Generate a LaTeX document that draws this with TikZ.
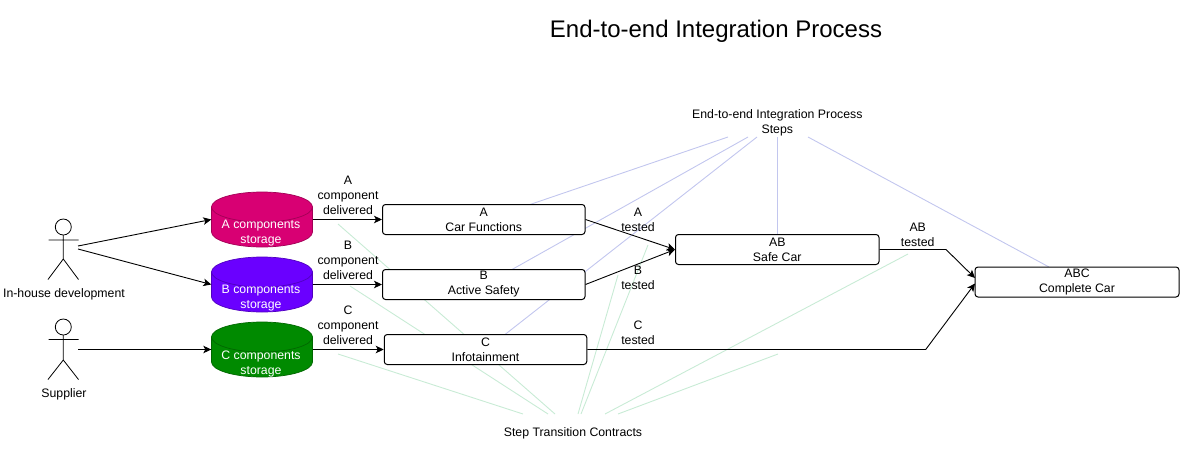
\documentclass[tikz,border=0pt]{standalone}
\usepackage{fontspec}
\setmainfont{Liberation Sans}
\usetikzlibrary{arrows.meta,backgrounds}
\definecolor{faintblue}{HTML}{C2C6EE}
\definecolor{faintgreen}{HTML}{C8EBD5}
\definecolor{storea}{HTML}{D80073}
\definecolor{storeb}{HTML}{6A00FF}
\definecolor{storec}{HTML}{008A00}
\tikzset{
  txt/.style={font=\fontsize{12.3}{15}\selectfont,align=center,inner sep=0pt,text=black},
  wtxt/.style={txt,text=white},
  stepbox/.style={draw=black,line width=1pt,rounded corners=3pt,fill=white,minimum width=202.5pt,minimum height=30pt,inner sep=0pt,
    font=\fontsize{12.3}{15}\selectfont,align=center},
  store/.style={inner sep=0pt,minimum width=101pt,minimum height=55pt},
  storeskin/.style={draw=#1!75!black,fill=#1,line width=0.7pt},
  flow/.style={draw=black,line width=0.9pt,-{Stealth[length=8pt,width=7.5pt,inset=2pt]}},
  stepline/.style={draw=faintblue,line width=0.9pt},
  contractline/.style={draw=faintgreen,line width=0.9pt},
  actorline/.style={draw=black,line width=0.8pt}
}
\begin{document}
\begin{tikzpicture}[x=1pt,y=-1pt]
\useasboundingbox (0,0) rectangle (1186,458);
\node[txt,font=\fontsize{24}{28}\selectfont] (title) at (716,31.5) {End-to-end Integration Process};
\node[txt] (steps) at (777.3,122.5) {End-to-end Integration Process\\Steps};
\node[txt] (contracts) at (573,433) {Step Transition Contracts};

% boxes
\node[stepbox] (a) at (483.75,219.5) {A\\Car Functions};
\node[stepbox] (b) at (483.75,284.5) {B\\Active Safety};
\node[stepbox] (c) at (485.5,349.5) {C\\Infotainment};
\node[stepbox,minimum width=203.5pt] (ab) at (777.25,249.5) {AB\\Safe Car};
\node[stepbox,minimum width=204pt] (abc) at (1077,282) {ABC\\Complete Car};

% storage
\node[store] (sa) at (262,219.5) {};
\node[store] (sb) at (262,284.5) {};
\node[store] (sc) at (262,349.5) {};
\draw[storeskin=storea] (211.5,207) -- (211.5,232) arc[x radius=50.5,y radius=-15,start angle=180,end angle=360] -- (312.5,207) -- cycle;
\draw[storeskin=storea] (262,207) ellipse[x radius=50.5,y radius=15];
\draw[storeskin=storeb] (211.5,272) -- (211.5,297) arc[x radius=50.5,y radius=-15,start angle=180,end angle=360] -- (312.5,272) -- cycle;
\draw[storeskin=storeb] (262,272) ellipse[x radius=50.5,y radius=15];
\draw[storeskin=storec] (211.5,337) -- (211.5,362) arc[x radius=50.5,y radius=-15,start angle=180,end angle=360] -- (312.5,337) -- cycle;
\draw[storeskin=storec] (262,337) ellipse[x radius=50.5,y radius=15];
\node[wtxt] (sat) at (261,233.5) {A components\\storage};
\node[wtxt] (sbt) at (261,298.5) {B components\\storage};
\node[wtxt] (sct) at (261,363.5) {C components\\storage};

% actors
\coordinate (ia) at (78,246);
\coordinate (ib) at (78,249);
\coordinate (is) at (78,349.5);
\draw[actorline] (63.3,227) circle (8);
\draw[actorline] (63.3,235) -- (63.3,259) (48.5,240) -- (78.5,240) (48,279.5) -- (63.3,259) -- (78.5,279.5);
\draw[actorline] (63.3,327) circle (8);
\draw[actorline] (63.3,335) -- (63.3,360) (48.5,339.5) -- (78.5,339.5) (48,379.5) -- (63.3,360) -- (78.5,379.5);
\node[txt] (inhouse) at (64,294) {In-house development};
\node[txt] (supplier) at (64,394) {Supplier};

% flows
\draw[flow] (ia) -- (sa.west);
\draw[flow] (ib) -- (sb.west);
\draw[flow] (is) -- (sc.west);
\draw[flow] (sa.east) -- (a.west);
\draw[flow] (sb.east) -- (b.west);
\draw[flow] (sc.east) -- (c.west);
\draw[flow] (a.east) -- (ab.west);
\draw[flow] (b.east) -- (ab.west);
\coordinate (bendab) at (946,249.5);
\coordinate (bendc) at (925.7,349.5);
\coordinate (abcup) at (975,278);
\coordinate (abcdn) at (975,283.5);
\draw[flow] (ab.east) -- (bendab) -- (abcup);
\draw[flow] (c.east) -- (bendc) -- (abcdn);

% flow labels
\node[txt] (la) at (348,195) {A\\component\\delivered};
\node[txt] (lb) at (348,260) {B\\component\\delivered};
\node[txt] (lc) at (348,325) {C\\component\\delivered};
\node[txt] (ta) at (638,219.8) {A\\tested};
\node[txt] (tb) at (638,277.8) {B\\tested};
\node[txt] (tc) at (638,332.5) {C\\tested};
\node[txt] (tab) at (917.7,234.8) {AB\\tested};

% faint contract and step lines behind everything
\coordinate (s1) at (728,137); \coordinate (s1e) at (530,204.5);
\coordinate (s2) at (748,137); \coordinate (s2e) at (512,269.5);
\coordinate (s3) at (757,137); \coordinate (s3e) at (505,334.5);
\coordinate (s4) at (777.5,137);
\coordinate (s5) at (808,137); \coordinate (s5e) at (1049,267);
\coordinate (c1) at (523,414); \coordinate (c1e) at (338,354);
\coordinate (c2) at (555,414); \coordinate (c2e) at (338,224);
\coordinate (c3) at (548,414); \coordinate (c3e) at (350,286);
\coordinate (c4) at (578,414); \coordinate (c4e) at (618,275);
\coordinate (c5) at (581,414); \coordinate (c5e) at (648,245);
\coordinate (c6) at (605,414); \coordinate (c6e) at (908,254);
\coordinate (c7) at (618,414); \coordinate (c7e) at (778,354);
\begin{scope}[on background layer]
\draw[stepline] (s1) -- (s1e);
\draw[stepline] (s2) -- (s2e);
\draw[stepline] (s3) -- (s3e);
\draw[stepline] (s4) -- (s4 |- ab.north);
\draw[stepline] (s5) -- (s5e);
\draw[contractline] (c1) -- (c1e);
\draw[contractline] (c2) -- (c2e);
\draw[contractline] (c3) -- (c3e);
\draw[contractline] (c4) -- (c4e);
\draw[contractline] (c5) -- (c5e);
\draw[contractline] (c6) -- (c6e);
\draw[contractline] (c7) -- (c7e);
\end{scope}
\end{tikzpicture}
\end{document}
